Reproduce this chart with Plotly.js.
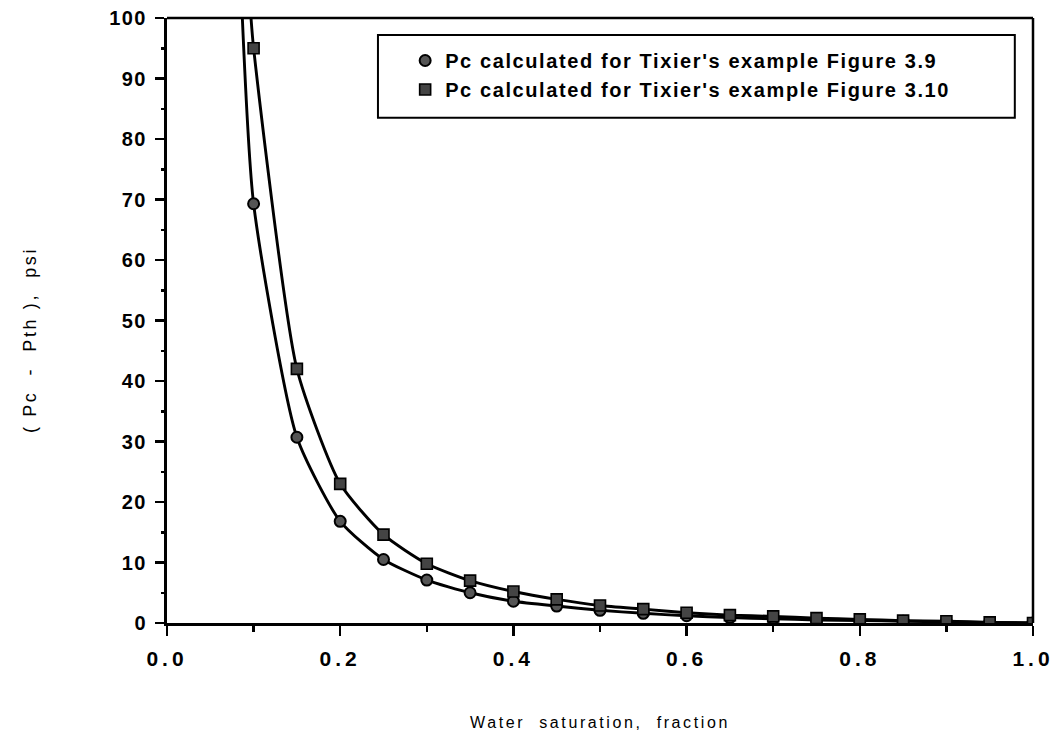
<!DOCTYPE html>
<html>
<head>
<meta charset="utf-8">
<script src="https://cdn.plot.ly/plotly-3.0.1.min.js"></script>
<style>
  html, body { margin: 0; padding: 0; background: #fff; }
  #chart { width: 1053px; height: 735px; }
  /* wide, typewriter-like spacing of the labels */
  #chart .xtick text { letter-spacing: 4px; }
  #chart .ytick text { letter-spacing: 1.5px; }
  #chart text.xtitle { letter-spacing: 2.6px; }
  #chart .annotation-text { letter-spacing: 2.6px; }
  #chart text.legendtext { letter-spacing: 1.6px; }
  #chart g.legend, #chart g.legend * { clip-path: none !important; }
</style>
</head>
<body>
<div id="chart"></div>
<script>
// Water saturation (fraction)
const sw = [0.10, 0.15, 0.20, 0.25, 0.30, 0.35, 0.40, 0.45, 0.50, 0.55,
            0.60, 0.65, 0.70, 0.75, 0.80, 0.85, 0.90, 0.95, 1.00];

// (Pc - Pth), psi, for Tixier's example Figure 3.9
const pcFig39 = [69.3, 30.7, 16.8, 10.5, 7.1, 5.0, 3.6, 2.8, 2.1, 1.6,
                 1.2, 0.9, 0.7, 0.5, 0.4, 0.3, 0.2, 0.1, 0.0];

// (Pc - Pth), psi, for Tixier's example Figure 3.10
const pcFig310 = [95.0, 42.0, 23.0, 14.6, 9.8, 7.0, 5.2, 3.9, 2.9, 2.3,
                  1.7, 1.3, 1.1, 0.8, 0.6, 0.4, 0.3, 0.1, 0.0];

// Where each fitted curve leaves the top of the plot
const curveTopSw = [0.087, 0.097];
const curveTopPc = [100, 100];

const names = [
  "Pc calculated for Tixier's example Figure 3.9",
  "Pc calculated for Tixier's example Figure 3.10"
];

const curve = (x0, y0, xs, ys) => ({
  x: [x0].concat(xs), y: [y0].concat(ys),
  mode: 'lines', type: 'scatter', showlegend: false, hoverinfo: 'skip',
  line: { color: '#000', width: 2.9, shape: 'spline', smoothing: 0.6 }
});

const data = [
  curve(curveTopSw[0], curveTopPc[0], sw, pcFig39),
  curve(curveTopSw[1], curveTopPc[1], sw, pcFig310),
  {
    x: sw, y: pcFig39, name: names[0], type: 'scatter', mode: 'markers',
    marker: { symbol: 'circle', size: 11, color: '#555', line: { color: '#000', width: 2 } }
  },
  {
    x: sw, y: pcFig310, name: names[1], type: 'scatter', mode: 'markers',
    marker: { symbol: 'square', size: 11, color: '#444', line: { color: '#000', width: 1.6 } }
  }
];

const family = '"Liberation Sans", Arial, sans-serif';
const black = '#000';

const layout = {
  width: 1053, height: 735,
  margin: { l: 167, r: 20, t: 18, b: 112 },
  paper_bgcolor: '#fff', plot_bgcolor: '#fff',
  font: { family: family, size: 17, color: black },
  showlegend: true,
  legend: {
    x: 0.275, y: 0.962, xanchor: 'left', yanchor: 'top',
    bgcolor: 'rgba(0,0,0,0)', borderwidth: 0,
    font: { family: family, size: 20, color: black, weight: 'bold' },
    tracegroupgap: 0
  },
  xaxis: {
    range: [0, 1], tickvals: [0, 0.2, 0.4, 0.6, 0.8, 1.0],
    ticktext: ['0.0', '0.2', '0.4', '0.6', '0.8', '1.0'],
    showgrid: false, zeroline: false,
    showline: true, linecolor: black, linewidth: 3,
    ticks: 'outside', ticklen: 10, tickwidth: 2.5, tickcolor: black,
    ticklabelstandoff: 5,
    minor: { dtick: 0.1, ticks: 'outside', ticklen: 6, tickwidth: 2.5, tickcolor: black, showgrid: false },
    tickfont: { family: family, size: 21, color: black, weight: 'bold' },
    title: { text: 'Water  saturation,  fraction', standoff: 48,
             font: { family: family, size: 16, color: black } }
  },
  yaxis: {
    range: [0, 100], dtick: 10,
    showgrid: false, zeroline: false,
    showline: true, linecolor: black, linewidth: 3,
    ticks: 'outside', ticklen: 9, tickwidth: 2.5, tickcolor: black,
    ticklabelstandoff: 4,
    minor: { dtick: 5, ticks: 'outside', ticklen: 3, tickwidth: 2.5, tickcolor: black, showgrid: false },
    tickfont: { family: family, size: 20, color: black, weight: 'bold' }
  },
  annotations: [
    // y-axis title, set a little below the middle of the axis
    { text: '( Pc  -  Pth ),  psi', textangle: -90, showarrow: false,
      xref: 'paper', yref: 'paper', x: -0.158, y: 0.468, xanchor: 'center', yanchor: 'middle',
      font: { family: family, size: 18, color: black } }
  ],
  shapes: [
    // top and right frame of the plot
    { type: 'line', xref: 'paper', yref: 'paper', x0: 0, x1: 1, y0: 1, y1: 1,
      line: { color: black, width: 2.5 } },
    { type: 'line', xref: 'paper', yref: 'paper', x0: 1, x1: 1, y0: 0, y1: 1,
      line: { color: black, width: 2.5 } },
    // legend box
    { type: 'rect', xref: 'paper', yref: 'paper', x0: 0.2436, x1: 0.979, y0: 0.835, y1: 0.972,
      line: { color: black, width: 2 }, fillcolor: 'rgba(0,0,0,0)' }
  ]
};

Plotly.newPlot('chart', data, layout, { displayModeBar: false, staticPlot: true });
</script>
</body>
</html>
